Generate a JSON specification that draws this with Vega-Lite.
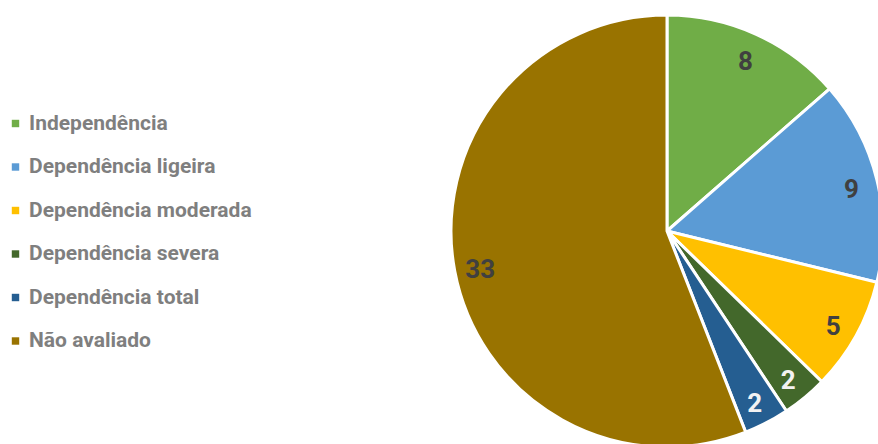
{
  "$schema": "https://vega.github.io/schema/vega-lite/v6.json",
  "width": 1334,
  "height": 462,
  "autosize": {"type": "none"},
  "padding": 0,
  "background": "white",
  "config": {"view": {"stroke": null}},
  "data": {"values": [
    {"idx": 1, "cat": "Independência", "n": 8},
    {"idx": 2, "cat": "Dependência ligeira", "n": 9},
    {"idx": 3, "cat": "Dependência moderada", "n": 5},
    {"idx": 4, "cat": "Dependência severa", "n": 2},
    {"idx": 5, "cat": "Dependência total", "n": 2},
    {"idx": 6, "cat": "Não avaliado", "n": 33}
  ]},
  "encoding": {
    "theta": {"field": "n", "type": "quantitative", "stack": true},
    "order": {"field": "idx", "type": "quantitative"}
  },
  "layer": [
    {
      "mark": {"type": "arc", "outerRadius": 216, "stroke": "white", "strokeWidth": 3},
      "encoding": {
        "color": {
          "field": "cat", "type": "nominal",
          "scale": {
            "domain": ["Independência", "Dependência ligeira", "Dependência moderada", "Dependência severa", "Dependência total", "Não avaliado"],
            "range": ["#70AD47", "#5B9BD5", "#FFC000", "#43682B", "#255E91", "#997300"]
          },
          "sort": null,
          "legend": {
            "title": null,
            "orient": "none",
            "legendX": 5,
            "legendY": 113,
            "symbolType": "square",
            "symbolSize": 55,
            "symbolStrokeWidth": 0,
            "labelFont": "Roboto",
            "labelFontSize": 21,
            "labelFontWeight": "bold",
            "labelColor": "#7f7f7f",
            "rowPadding": 21.5,
            "labelOffset": 3,
            "labelLimit": 400
          }
        }
      }
    },
    {
      "mark": {"type": "text", "radius": 190, "dy": 4, "font": "Roboto", "fontSize": 26, "fontWeight": "bold", "align": "center", "baseline": "middle"},
      "encoding": {
        "text": {"field": "n", "type": "quantitative"},
        "color": {
          "condition": {"test": "datum.cat === 'Dependência severa' || datum.cat === 'Dependência total'", "value": "#f2f2f2"},
          "value": "#404040"
        }
      }
    }
  ]
}
